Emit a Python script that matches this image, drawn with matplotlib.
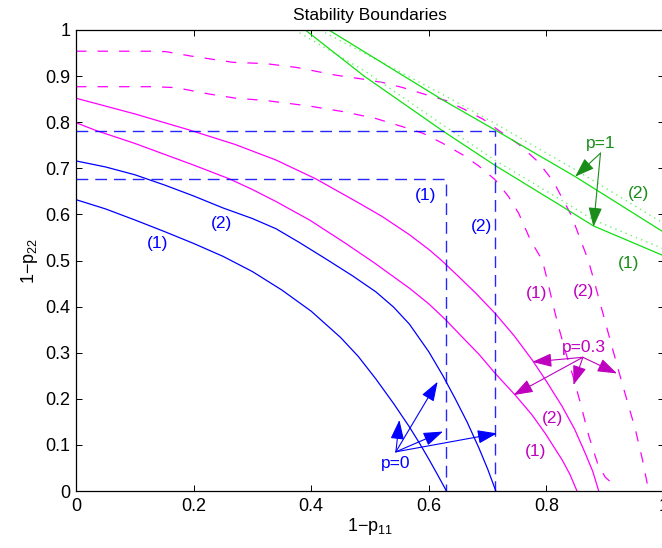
import matplotlib
matplotlib.use("Agg")
import matplotlib.pyplot as plt

# curves (x = 1-p11, y = 1-p22)
blue1_x = [0, 0.05, 0.1, 0.15, 0.2, 0.25, 0.3, 0.35, 0.4, 0.45, 0.48, 0.51, 0.54, 0.567, 0.585, 0.601, 0.615, 0.63]
blue1_y = [0.632, 0.612, 0.588, 0.563, 0.537, 0.509, 0.476, 0.436, 0.390, 0.333, 0.292, 0.243, 0.190, 0.139, 0.102, 0.067, 0.035, 0]
blue2_x = [0, 0.05, 0.1, 0.15, 0.2, 0.25, 0.3, 0.34, 0.38, 0.428, 0.47, 0.51, 0.54, 0.567, 0.6, 0.624,
           0.645, 0.665, 0.685, 0.70, 0.714]
blue2_y = [0.716, 0.703, 0.686, 0.664, 0.640, 0.614, 0.591, 0.569, 0.539, 0.501, 0.467, 0.432, 0.399, 0.362,
           0.302, 0.250, 0.200, 0.150, 0.094, 0.048, 0]

mag1_x = [0, 0.034, 0.1, 0.2, 0.261, 0.3, 0.34, 0.397, 0.454, 0.505, 0.567, 0.6, 0.629, 0.656, 0.685,
          0.713, 0.747, 0.775, 0.798, 0.827, 0.84, 0.852]
mag1_y = [0.799, 0.782, 0.754, 0.707, 0.677, 0.654, 0.628, 0.588, 0.541, 0.497, 0.440, 0.406, 0.371, 0.335,
          0.297, 0.255, 0.208, 0.166, 0.125, 0.067, 0.036, 0]
mag2_x = [0, 0.1, 0.193, 0.27, 0.34, 0.408, 0.482, 0.52, 0.567, 0.6, 0.621, 0.65, 0.68, 0.713, 0.745, 0.776,
          0.8, 0.827, 0.848, 0.866, 0.879, 0.889]
mag2_y = [0.852, 0.818, 0.783, 0.752, 0.718, 0.677, 0.624, 0.596, 0.556, 0.524, 0.501, 0.466, 0.429, 0.385,
          0.337, 0.284, 0.238, 0.183, 0.134, 0.082, 0.042, 0]

magd1_x = [0, 0.13, 0.17, 0.227, 0.272, 0.323, 0.397, 0.454, 0.51, 0.556, 0.59, 0.624, 0.658, 0.685,
           0.713, 0.736, 0.753, 0.774, 0.793, 0.803, 0.812, 0.822, 0.833, 0.845, 0.858, 0.872, 0.887,
           0.90, 0.915]
magd1_y = [0.877, 0.877, 0.875, 0.861, 0.852, 0.847, 0.835, 0.823, 0.808, 0.790, 0.776, 0.754, 0.729, 0.705,
           0.675, 0.638, 0.602, 0.541, 0.501, 0.45, 0.40, 0.35, 0.30, 0.25, 0.19, 0.12, 0.06,
           0.03, 0.013]
magd2_x = [0, 0.13, 0.153, 0.193, 0.266, 0.323, 0.374, 0.442, 0.485, 0.522, 0.556, 0.592, 0.629, 0.662,
           0.693, 0.720, 0.754, 0.786, 0.812, 0.824, 0.842, 0.856, 0.871, 0.878, 0.893, 0.91, 0.923,
           0.937, 0.951, 0.963, 0.974]
magd2_y = [0.954, 0.954, 0.953, 0.944, 0.930, 0.927, 0.919, 0.902, 0.894, 0.886, 0.875, 0.861, 0.847, 0.827,
           0.806, 0.781, 0.751, 0.714, 0.671, 0.642, 0.599, 0.552, 0.501, 0.47, 0.40, 0.32, 0.26,
           0.197, 0.135, 0.07, 0]

green1_x = [0.39, 0.49, 0.625, 0.713, 0.827, 0.88, 1.0]
green1_y = [1.0, 0.9, 0.78, 0.706, 0.617, 0.575, 0.51]
green2_x = [0.43, 0.624, 0.713, 0.849, 1.0]
green2_y = [1.0, 0.848, 0.783, 0.682, 0.561]
greend1_x = [0.372, 0.49, 0.625, 0.713, 0.827, 0.88, 1.0]
greend1_y = [1.0, 0.912, 0.793, 0.717, 0.630, 0.588, 0.525]
greend2_x = [0.415, 0.624, 0.713, 0.849, 1.0]
greend2_y = [1.0, 0.860, 0.797, 0.697, 0.580]

# dashed boxes (corner x, corner y)
box1 = (0.63, 0.677)
box2 = (0.713, 0.781)

# annotations: label, label pos, arrow start, arrow tips
p0_label, p0_pos, p0_start = "p=0", (0.544, 0.060), (0.544, 0.085)
p0_tips = [(0.550, 0.154), (0.615, 0.237), (0.624, 0.129), (0.716, 0.125)]
p03_label, p03_pos, p03_start = "p=0.3", (0.863, 0.312), (0.862, 0.290)
p03_tips = [(0.776, 0.280), (0.744, 0.208), (0.846, 0.230), (0.920, 0.255)]
p1_label, p1_pos, p1_start = "p=1", (0.892, 0.754), (0.892, 0.733)
p1_tips = [(0.849, 0.682), (0.880, 0.573)]

blue_tags = [("(1)", 0.138, 0.537), ("(2)", 0.247, 0.581), ("(1)", 0.595, 0.642), ("(2)", 0.690, 0.573)]
mag_tags = [("(1)", 0.784, 0.429), ("(2)", 0.863, 0.432), ("(2)", 0.810, 0.158), ("(1)", 0.781, 0.085)]
green_tags = [("(2)", 0.957, 0.646), ("(1)", 0.939, 0.494)]

plt.rcParams['font.family'] = ['Liberation Sans', 'DejaVu Sans']
plt.rcParams['mathtext.default'] = 'regular'
plt.rcParams['lines.scale_dashes'] = False

BLUE = '#0000ff'
MAG = '#ff00ff'
MAG_TXT = '#bf00bf'
GREEN = '#10e010'
GREEN_DOT = '#70f070'
GREEN_TXT = '#1a8c1a'

fig = plt.figure(figsize=(6.62, 5.48), dpi=100)
ax = fig.add_axes([76 / 662, 57 / 548, 588 / 662, 461 / 548])

lw = 0.9
ax.plot(blue1_x, blue1_y, color=BLUE, lw=lw)
ax.plot(blue2_x, blue2_y, color=BLUE, lw=lw)
ax.plot(mag1_x, mag1_y, color=MAG, lw=lw)
ax.plot(mag2_x, mag2_y, color=MAG, lw=lw)
ax.plot(magd1_x, magd1_y, color=MAG, lw=lw, dashes=(7.5, 8))
ax.plot(magd2_x, magd2_y, color=MAG, lw=lw, dashes=(7.5, 8))
ax.plot(greend1_x, greend1_y, color=GREEN_DOT, lw=1.0, dashes=(1, 3))
ax.plot(greend2_x, greend2_y, color=GREEN_DOT, lw=1.0, dashes=(1, 3))
ax.plot(green1_x, green1_y, color=GREEN, lw=lw)
ax.plot(green2_x, green2_y, color=GREEN, lw=lw)

for bx, by in (box1, box2):
    ax.plot([0, bx, bx], [by, by, 0], color=BLUE, lw=1.0, dashes=(8.5, 5), alpha=0.85)


def arrows(start, tips, color):
    for tip in tips:
        ax.annotate('', xy=tip, xytext=start,
                    arrowprops=dict(arrowstyle='-|>,head_length=0.8,head_width=0.28',
                                    color=color, lw=0.8, mutation_scale=15,
                                    shrinkA=0, shrinkB=0))


arrows(p0_start, p0_tips, BLUE)
arrows(p03_start, p03_tips, MAG_TXT)
arrows(p1_start, p1_tips, GREEN_TXT)

fs = 12.5
ax.text(*p0_pos, p0_label, color=BLUE, fontsize=fs, ha='center', va='center')
ax.text(*p03_pos, p03_label, color=MAG_TXT, fontsize=fs, ha='center', va='center')
ax.text(*p1_pos, p1_label, color=GREEN_TXT, fontsize=fs, ha='center', va='center')
for t, x, y in blue_tags:
    ax.text(x, y, t, color=BLUE, fontsize=fs, ha='center', va='center')
for t, x, y in mag_tags:
    ax.text(x, y, t, color=MAG_TXT, fontsize=fs, ha='center', va='center')
for t, x, y in green_tags:
    ax.text(x, y, t, color=GREEN_TXT, fontsize=fs, ha='center', va='center')

ax.set_xlim(0, 1)
ax.set_ylim(0, 1)
ax.set_xticks([0, 0.2, 0.4, 0.6, 0.8, 1])
ax.set_yticks([i / 10 for i in range(11)])
ax.xaxis.set_major_formatter(plt.FormatStrFormatter('%g'))
ax.yaxis.set_major_formatter(plt.FormatStrFormatter('%g'))
ax.tick_params(direction='in', length=4, width=0.7, top=True, right=True, labelsize=13)
ax.tick_params(axis='x', pad=5)
ax.tick_params(axis='y', pad=4)
for s in ax.spines.values():
    s.set_linewidth(0.9)

ax.set_title('Stability Boundaries', fontsize=12.5, pad=7)
ax.set_xlabel('1\u2212p$_{11}$', fontsize=13, labelpad=1)
ax.set_ylabel('1\u2212p$_{22}$', fontsize=13, labelpad=4)

fig.savefig('out.png', dpi=100)
